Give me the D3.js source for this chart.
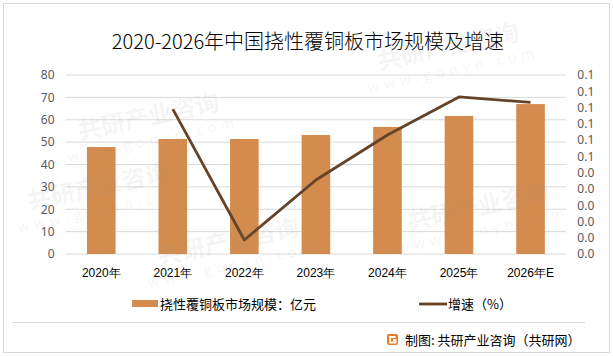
<!DOCTYPE html>
<html><head><meta charset="utf-8">
<script src="https://cdn.jsdelivr.net/npm/d3@7"></script>
<style>
html,body{margin:0;padding:0;background:#fff;}
svg{display:block;font-family:"Noto Sans CJK SC","Noto Sans",sans-serif;}
</style></head>
<body>
<svg id="c" width="613" height="356"></svg>
<script>
const title = "2020-2026年中国挠性覆铜板市场规模及增速";
const categories = ["2020年","2021年","2022年","2023年","2024年","2025年","2026年E"];
const marketSize = [47.8, 51.4, 51.4, 53.2, 56.8, 61.7, 67.0];
const growthYears = ["2021年","2022年","2023年","2024年","2025年","2026年E"];
const growth = [0.089, 0.0086, 0.0455, 0.0731, 0.0965, 0.0932];
const leftTicks = [0,10,20,30,40,50,60,70,80];
const rightTickValues = [0,0.01,0.02,0.03,0.04,0.05,0.06,0.07,0.08,0.09,0.10,0.11];
const rightTickLabels = ["0.0","0.0","0.0","0.0","0.0","0.0","0.1","0.1","0.1","0.1","0.1","0.1"];
const legendBar = "挠性覆铜板市场规模：亿元";
const legendLine = "增速（%）";
const source = "制图: 共研产业咨询（共研网）";

const svg = d3.select("#c");
const W = 613, H = 356;
const plot = {left: 65.5, right: 566.3, top: 75, bottom: 254};

// border
svg.append("rect").attr("x",3.5).attr("y",3.5).attr("width",W-7).attr("height",H-7)
  .attr("fill","#fff").attr("stroke","#d9d9d9").attr("stroke-width",1);

// title
svg.append("text").attr("x",308).attr("y",49).attr("text-anchor","middle")
  .attr("font-size",20).attr("font-weight",300).attr("fill","#000").text(title);

const x = d3.scaleBand().domain(categories).range([plot.left, plot.right]).paddingInner(0.6).paddingOuter(0.3);
const yL = d3.scaleLinear().domain([0,80]).range([plot.bottom, plot.top]);
const yR = d3.scaleLinear().domain([0,0.11]).range([plot.bottom, plot.top]);

// gridlines
svg.append("g").selectAll("line").data(leftTicks).join("line")
  .attr("x1",plot.left).attr("x2",plot.right)
  .attr("y1",d=>yL(d)).attr("y2",d=>yL(d))
  .attr("stroke","#d9d9d9").attr("stroke-width",1);

// left axis
const axL = d3.axisLeft(yL).tickValues(leftTicks).tickSize(0).tickPadding(0);
const gL = svg.append("g").attr("transform",`translate(${plot.left-11},0)`).call(axL);
gL.select(".domain").remove();
gL.selectAll("text").attr("font-size",12).attr("fill","#595959").attr("font-family","'Noto Sans','Noto Sans CJK SC',sans-serif");

// right axis
const axR = d3.axisRight(yR).tickValues(rightTickValues).tickSize(0).tickPadding(0)
  .tickFormat((d,i)=>rightTickLabels[i]);
const gR = svg.append("g").attr("transform",`translate(${plot.right+11},0)`).call(axR);
gR.select(".domain").remove();
gR.selectAll("text").attr("font-size",12).attr("fill","#595959").attr("font-family","'Noto Sans','Noto Sans CJK SC',sans-serif");

// x axis labels
const axX = d3.axisBottom(x).tickSize(0).tickPadding(0);
const gX = svg.append("g").attr("transform",`translate(0,${plot.bottom+14})`).call(axX);
gX.select(".domain").remove();
gX.selectAll("text").attr("font-size",12).attr("fill","#000");

// bars
svg.append("g").selectAll("rect").data(marketSize).join("rect")
  .attr("x",(d,i)=>x(categories[i])).attr("width",x.bandwidth())
  .attr("y",d=>yL(d)).attr("height",d=>yL(0)-yL(d))
  .attr("fill","#D38B4E");

// line
const line = d3.line().x((d,i)=>x(growthYears[i])+x.bandwidth()/2).y(d=>yR(d));
svg.append("path").datum(growth).attr("d",line)
  .attr("fill","none").attr("stroke","#654329").attr("stroke-width",2.8)
  .attr("stroke-linejoin","round");

// legend
svg.append("rect").attr("x",132).attr("y",300).attr("width",26).attr("height",7).attr("fill","#D38B4E");
svg.append("text").attr("x",160).attr("y",308.5).attr("font-size",13).attr("fill","#000").text(legendBar);
svg.append("line").attr("x1",419).attr("x2",447).attr("y1",304).attr("y2",304)
  .attr("stroke","#654329").attr("stroke-width",2.8);
svg.append("text").attr("x",448).attr("y",308.5).attr("font-size",13).attr("fill","#000").text(legendLine);

// separator
svg.append("line").attr("x1",12).attr("x2",585).attr("y1",322.5).attr("y2",322.5)
  .attr("stroke","#d9d9d9").attr("stroke-width",1);

// source with logo
const lg = svg.append("g").attr("transform","translate(387,334)");
lg.append("rect").attr("width",11).attr("height",11).attr("rx",2).attr("fill","#F07A22");
lg.append("path").attr("d","M8.5,3 H3 V8.5 H8.5 V6 H6").attr("fill","none").attr("stroke","#fff").attr("stroke-width",1.8);
svg.append("text").attr("x",405).attr("y",345).attr("font-size",13).attr("fill","#000").text(source);

// watermarks (kept fully inside the frame)
const wm = svg.append("g").attr("pointer-events","none");
const wmPos = [[150,125],[450,55],[230,250],[480,215],[100,195]];
wmPos.forEach(([px,py])=>{
  const g = wm.append("g").attr("transform",`translate(${px},${py}) rotate(-12)`);
  g.append("text").attr("text-anchor","middle").attr("font-size",24).attr("font-weight",700)
    .attr("fill","rgba(150,150,150,0.10)").text("共研产业咨询");
  g.append("text").attr("text-anchor","middle").attr("y",20).attr("font-size",14)
    .attr("letter-spacing",5).attr("fill","rgba(150,150,150,0.10)").text("www.gonyn.com");
});
</script>
</body></html>
